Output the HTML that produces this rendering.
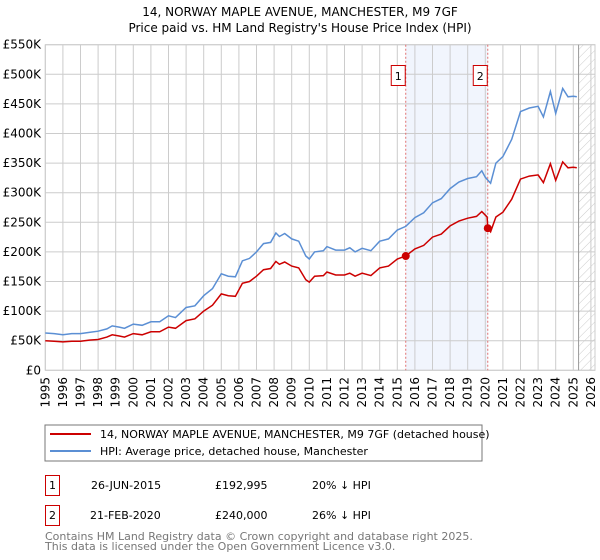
<!DOCTYPE html>
<html><head><meta charset="utf-8"><style>
body{margin:0;background:#fff;}
svg{display:block;font-family:"DejaVu Sans","Liberation Sans",sans-serif;}
</style></head><body>
<svg id="chart" width="600" height="560" xmlns="http://www.w3.org/2000/svg">
<text x="300" y="16" text-anchor="middle" font-size="12">14, NORWAY MAPLE AVENUE, MANCHESTER, M9 7GF</text>
<text x="300" y="32" text-anchor="middle" font-size="12">Price paid vs. HM Land Registry's House Price Index (HPI)</text>
<g id="plot"></g>
<rect x="45" y="425" width="437" height="36" fill="#fff" stroke="#777"/>
<line x1="50" y1="434" x2="91" y2="434" stroke="#cc0000" stroke-width="2"/>
<text x="100" y="438" font-size="11">14, NORWAY MAPLE AVENUE, MANCHESTER, M9 7GF (detached house)</text>
<line x1="50" y1="451" x2="91" y2="451" stroke="#5b8fd4" stroke-width="2"/>
<text x="100" y="455" font-size="11">HPI: Average price, detached house, Manchester</text>
<g font-size="11">
<rect x="45.5" y="475.5" width="14" height="20" fill="none" stroke="#cc0000"/>
<text x="52.5" y="489" text-anchor="middle">1</text>
<text x="91" y="489">26-JUN-2015</text>
<text x="215" y="489">£192,995</text>
<text x="312" y="489">20% ↓ HPI</text>
<rect x="45.5" y="505.5" width="14" height="20" fill="none" stroke="#cc0000"/>
<text x="52.5" y="519" text-anchor="middle">2</text>
<text x="90" y="519">21-FEB-2020</text>
<text x="215" y="519">£240,000</text>
<text x="312" y="519">26% ↓ HPI</text>
</g>
<text x="45" y="540" font-size="11" fill="#777">Contains HM Land Registry data © Crown copyright and database right 2025.</text>
<text x="45" y="550" font-size="11" fill="#777">This data is licensed under the Open Government Licence v3.0.</text>
</svg>
<script>
const hpiYears=[1995,1995.5,1996,1996.5,1997,1997.5,1998,1998.5,1998.8,1999.2,1999.5,2000,2000.5,2001,2001.5,2002,2002.4,2003,2003.5,2004,2004.5,2005,2005.4,2005.8,2006.2,2006.6,2007,2007.4,2007.8,2008.1,2008.3,2008.6,2009,2009.4,2009.8,2010,2010.3,2010.8,2011,2011.5,2012,2012.3,2012.6,2013,2013.5,2014,2014.5,2015,2015.48,2016,2016.5,2017,2017.5,2018,2018.5,2019,2019.5,2019.8,2020,2020.3,2020.6,2021,2021.5,2022,2022.5,2023,2023.3,2023.7,2024,2024.4,2024.7,2025,2025.2];
const hpiValues=[63,62,60,62,62,64,66,70,75,73,71,78,76,82,82,92,89,106,109,126,138,163,159,158,185,189,200,214,216,232,226,231,222,218,193,188,200,202,209,203,203,207,200,206,202,218,222,237,243,258,266,283,290,307,318,324,327,337,326,316,350,361,390,437,443,446,428,471,434,476,462,463,462];
const priceYears=[1995,1995.5,1996,1996.5,1997,1997.5,1998,1998.5,1998.8,1999.2,1999.5,2000,2000.5,2001,2001.5,2002,2002.4,2003,2003.5,2004,2004.5,2005,2005.4,2005.8,2006.2,2006.6,2007,2007.4,2007.8,2008.1,2008.3,2008.6,2009,2009.4,2009.8,2010,2010.3,2010.8,2011,2011.5,2012,2012.3,2012.6,2013,2013.5,2014,2014.5,2015,2015.48,2016,2016.5,2017,2017.5,2018,2018.5,2019,2019.5,2019.8,2020.1,2020.14,2020.3,2020.6,2021,2021.5,2022,2022.5,2023,2023.3,2023.7,2024,2024.4,2024.7,2025,2025.2];
const priceValues=[50,49,48,49,49,51,52,56,60,58,56,62,60,65,65,73,71,84,87,100,110,129,126,125,147,150,159,170,172,184,179,183,176,173,153,149,159,160,166,161,161,164,159,164,160,173,176,188,193,205,211,225,230,244,252,257,260,268,259,240,234,259,267,289,323,328,330,317,349,321,352,342,343,342];
const saleYears=[2015.48,2020.14];
const saleValues=[192.995,240];
const saleLabels=["1","2"];
const yTicks=[0,50,100,150,200,250,300,350,400,450,500,550];
const xTicks=[1995,1996,1997,1998,1999,2000,2001,2002,2003,2004,2005,2006,2007,2008,2009,2010,2011,2012,2013,2014,2015,2016,2017,2018,2019,2020,2021,2022,2023,2024,2025,2026];
const dataEnd=2025.3;

const X0=45.3,XS=17.6,Y0=370.3,YT=44.7;
const x=y=>X0+(y-1995)*XS;
const y=v=>Y0-(v/550)*(Y0-YT);
const NS="http://www.w3.org/2000/svg";
const g=document.getElementById('plot');
function el(t,a,p){const e=document.createElementNS(NS,t);for(const k in a)e.setAttribute(k,a[k]);(p||g).appendChild(e);return e;}
const xR=595;
const sh=el('rect',{x:x(saleYears[0]),y:YT,width:x(saleYears[1])-x(saleYears[0]),height:Y0-YT,fill:'#eef3fc',opacity:0.8});


const defs=el('defs',{});
const pat=el('pattern',{id:'hatch',width:6,height:6,patternUnits:'userSpaceOnUse',patternTransform:'rotate(45)'},defs);
el('line',{x1:0,y1:0,x2:0,y2:6,stroke:'#ccc','stroke-width':1},pat);
const hr=el('rect',{x:x(dataEnd),y:YT,width:xR-x(dataEnd),height:Y0-YT,fill:'url(#hatch)'});


yTicks.forEach(v=>{
  const l=el('line',{x1:X0,x2:xR,y1:y(v),y2:y(v),stroke:'#ccc','stroke-width':1});
  
  
  const t=el('text',{x:41,y:y(v)+4,'text-anchor':'end','font-size':12});
  
  
  t.textContent=v===0?'£0':'£'+v+'K';
});
xTicks.forEach(yr=>{
  const l=el('line',{x1:x(yr),x2:x(yr),y1:YT,y2:Y0,stroke:'#ccc','stroke-width':1});
  
  
  const tx=x(yr)+4,ty=377;
  const t=el('text',{x:tx,y:ty,'text-anchor':'end','font-size':12,transform:'rotate(-90 '+tx+' '+ty+')'});
  
  
  t.textContent=yr;
});
const fr=el('rect',{x:X0,y:YT,width:xR-X0,height:Y0-YT,fill:'none',stroke:'#ccc'});


const dl=el('line',{x1:x(dataEnd),x2:x(dataEnd),y1:YT,y2:Y0,stroke:'#999','stroke-width':1});


saleYears.forEach((s,i)=>{
  const l=el('line',{x1:x(s),x2:x(s),y1:YT,y2:Y0,stroke:'#e07070','stroke-dasharray':'2,2','stroke-width':1});
  
  
  const b=el('rect',{x:x(s)-14.5,y:65.5,width:14,height:20,fill:'#fff',stroke:'#cc0000'});
  
  
  const t=el('text',{x:x(s)-7.5,y:80,'text-anchor':'middle','font-size':11});
  
  
  t.textContent=saleLabels[i];
});
const hp=el('path',{d:hpiYears.map((yr,i)=>(i?'L':'M')+x(yr).toFixed(1)+','+y(hpiValues[i]).toFixed(1)).join(''),fill:'none',stroke:'#5b8fd4','stroke-width':1.5});


const pp=el('path',{d:priceYears.map((yr,i)=>(i?'L':'M')+x(yr).toFixed(1)+','+y(priceValues[i]).toFixed(1)).join(''),fill:'none',stroke:'#cc0000','stroke-width':1.5});


saleYears.forEach((s,i)=>{
  const c=el('circle',{cx:x(s),cy:y(saleValues[i]),r:4,fill:'#cc0000'});
  
  
});
</script>
</body></html>
